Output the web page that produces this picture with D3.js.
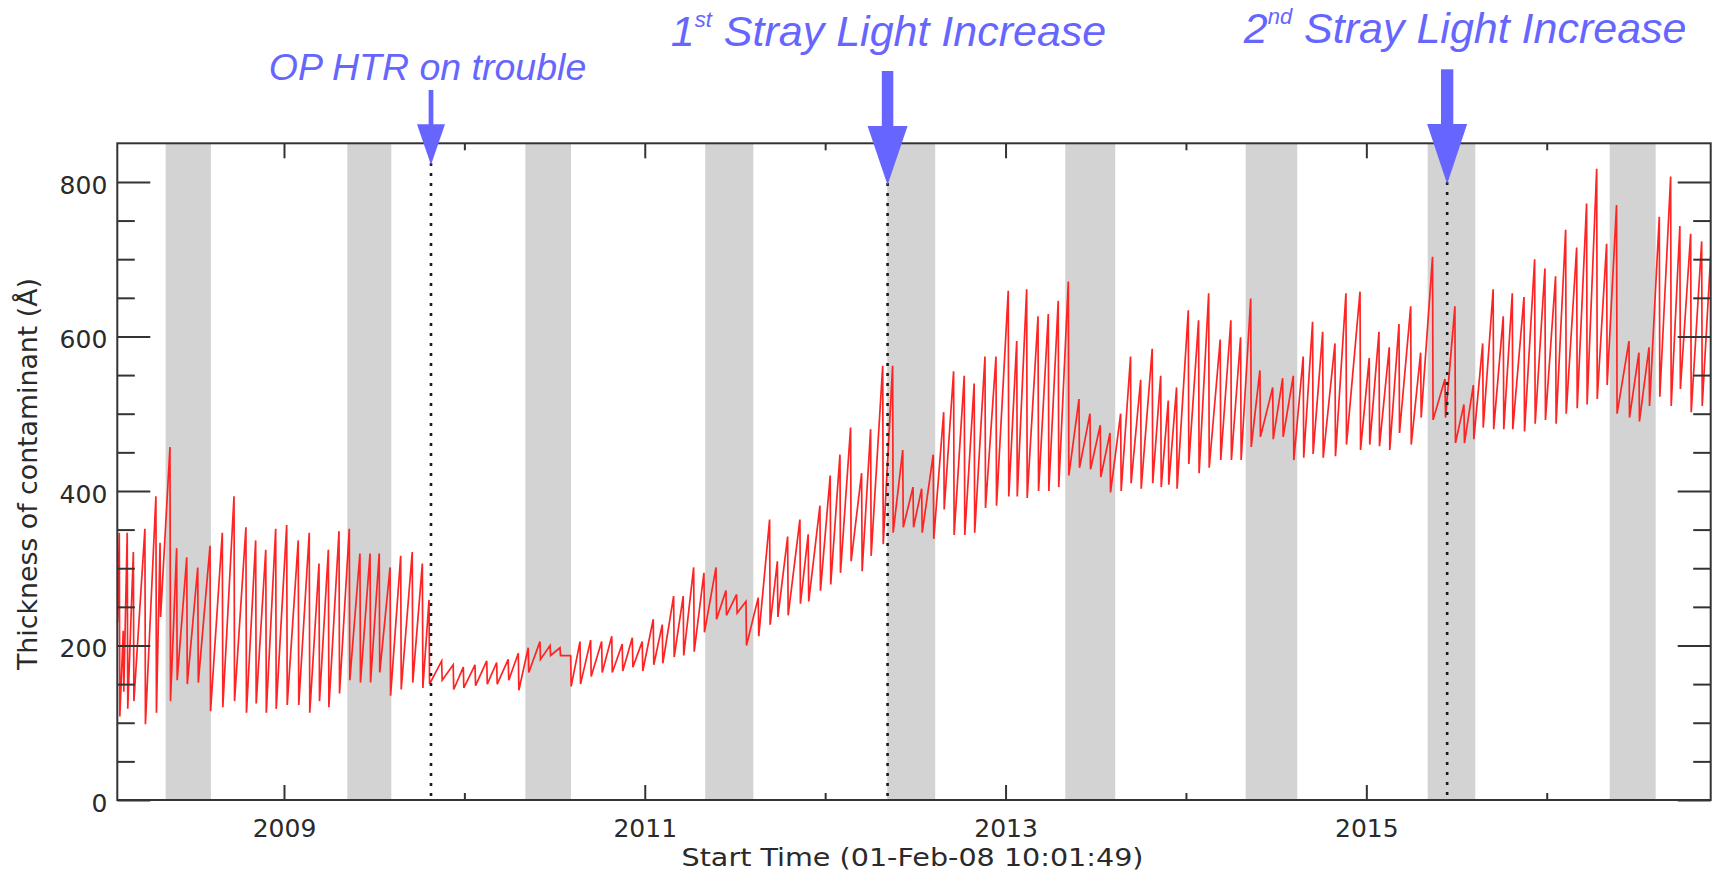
<!DOCTYPE html>
<html>
<head>
<meta charset="utf-8">
<script src="https://cdn.jsdelivr.net/npm/d3@7"></script>
<style>
  html, body { margin: 0; padding: 0; background: #ffffff; }
  svg { display: block; }
</style>
</head>
<body>
<svg id="chart" width="1715" height="877"></svg>
<script>
// ---------------- DATA ----------------
// Time in decimal years; values in Angstrom.
const startPoint = [2008.077, 230];
const endPoint = [2016.909, 705];

// Times of each bake-out drop (peak value reached just before, trough just after)
const dropYears = [
  2008.087, 2008.109, 2008.131, 2008.165, 2008.229, 2008.290, 2008.313, 2008.368,
  2008.405, 2008.461, 2008.522, 2008.590,
  2008.658, 2008.723, 2008.789, 2008.843, 2008.899, 2008.954, 2009.015, 2009.079, 2009.140, 2009.194, 2009.246, 2009.305, 2009.362,
  2009.421, 2009.477, 2009.528, 2009.588,
  2009.647, 2009.711, 2009.767, 2009.804,
  2009.874, 2009.938, 2009.994, 2010.059, 2010.124, 2010.179, 2010.243, 2010.299,
  2010.354, 2010.419, 2010.475, 2010.530, 2010.589,
  2010.641, 2010.700, 2010.761, 2010.817, 2010.875, 2010.931, 2010.986, 2011.047, 2011.097, 2011.160, 2011.213, 2011.271, 2011.328, 2011.395,
  2011.450, 2011.509, 2011.561,
  2011.629, 2011.692, 2011.735, 2011.792, 2011.860, 2011.906, 2011.971, 2012.028, 2012.082, 2012.141, 2012.202, 2012.252, 2012.319, 2012.374, 2012.430, 2012.487,
  2012.535, 2012.599, 2012.657, 2012.712, 2012.771, 2012.826, 2012.886, 2012.947, 2013.015, 2013.062, 2013.117, 2013.180, 2013.237, 2013.292, 2013.348,
  2013.407, 2013.468, 2013.525, 2013.579,
  2013.638, 2013.693, 2013.749, 2013.813, 2013.860, 2013.902, 2013.948, 2014.013, 2014.070, 2014.126, 2014.190, 2014.249, 2014.303, 2014.359,
  2014.410, 2014.481, 2014.536, 2014.595,
  2014.650, 2014.702, 2014.758, 2014.826, 2014.887, 2014.965, 2015.016, 2015.070, 2015.127, 2015.181, 2015.246, 2015.301,
  2015.367, 2015.436, 2015.491, 2015.541, 2015.593,
  2015.645, 2015.703, 2015.759, 2015.809, 2015.874, 2015.933, 2015.990, 2016.049, 2016.105, 2016.166, 2016.221, 2016.277, 2016.332, 2016.387,
  2016.456, 2016.511, 2016.567,
  2016.624, 2016.687, 2016.738, 2016.798, 2016.859
];
const peakValues = [
  346, 219, 346, 321, 351, 393, 333, 457,
  326, 314, 301, 329,
  346, 393, 353, 336, 324, 351, 356, 336, 346, 306, 324, 348, 351,
  319, 319, 319, 301,
  316, 321, 306, 259,
  180, 175, 172, 175, 180, 178, 182, 190,
  197, 205, 200, 197, 187,
  205, 207, 205, 212, 202, 210, 205, 234, 227, 264, 264, 301, 294, 301,
  271, 266, 257,
  262, 363, 309, 341, 363, 344, 381, 420, 447, 482, 423, 480, 562, 562, 453, 405,
  403, 447, 502, 555, 549, 539, 574, 574, 659, 594, 661, 626, 629, 646, 671,
  519, 500, 485, 475,
  500, 574, 544, 584, 549, 517, 534, 634, 621, 656, 596, 621, 599, 649,
  556, 534, 546, 549,
  574, 619, 606, 591, 656, 658, 572, 606, 586, 616, 639, 579,
  703, 545, 639, 512, 537,
  591, 661, 626, 656, 651, 700, 688, 678, 738, 715, 772, 817, 720, 770,
  594, 579, 586,
  755, 807, 743, 733, 723
];
const troughValues = [
  108, 140, 118, 128, 98, 113, 237, 128,
  155, 150, 152, 115,
  120, 128, 113, 125, 113, 118, 123, 123, 113, 128, 120, 138, 155,
  152, 152, 165, 135,
  143, 152, 145, 150,
  155, 143, 145, 148, 150, 150, 155, 142,
  165, 182, 187, 187, 147,
  150, 160, 165, 165, 167, 172, 167, 175, 177, 185, 187, 192, 217, 234,
  239, 242, 200,
  212, 227, 237, 239, 254, 257, 271, 279, 294, 309, 296, 316, 331, 346, 353, 353,
  346, 338, 376, 343, 343, 346, 378, 381, 393, 393, 391, 400, 400, 405, 420,
  430, 428, 418, 398,
  400, 410, 403, 410, 405, 408, 403, 435, 423, 430, 440, 440, 440, 457,
  470, 467, 470, 440,
  443, 448, 443, 445, 460, 453, 460, 458, 453, 475, 460, 495,
  492, 495, 462, 462, 467,
  482, 480, 480, 480, 477, 487, 492, 487, 500, 507, 512, 519, 537, 500,
  495, 490, 510,
  522, 510, 532, 502, 510
];

// Shaded seasons (decimal years)
const bandStarts = [2008.344, 2009.351, 2010.338, 2011.335, 2012.344, 2013.331, 2014.331, 2015.340, 2016.349];
const bandEnds   = [2008.595, 2009.595, 2010.591, 2011.602, 2012.610, 2013.608, 2014.617, 2015.604, 2016.604];

// Events
const eventYears = [2009.815, 2012.346, 2015.448];
const eventMain  = ["OP HTR on trouble", "1", "2"];
const eventSup   = ["", "st", "nd"];
const eventRest  = ["", " Stray Light Increase", " Stray Light Increase"];

// Axes
const xDomain = [2008.076, 2016.909];
const yDomain = [0, 850];
const xMajorTicks = [2009, 2011, 2013, 2015];
const xMinorTicks = [2010, 2012, 2014, 2016];
const yMajorTicks = [0, 200, 400, 600, 800];
const yMinorTicks = [50, 100, 150, 250, 300, 350, 450, 500, 550, 650, 700, 750];
const xTitle = "Start Time (01-Feb-08 10:01:49)";
const yTitle = "Thickness of contaminant (Å)";

// ---------------- LAYOUT ----------------
const L = 117.3, R = 1710.7, T = 143.3, B = 800;
const svg = d3.select("#chart");
const x = d3.scaleLinear().domain(xDomain).range([L, R]);
const y = d3.scaleLinear().domain(yDomain).range([B, T]);

const axisFont = "'DejaVu Sans', 'Liberation Sans', sans-serif";
const axisColor = "#333333";
const annColor = "#6666ff";
const annFont = "'Liberation Sans', Arial, sans-serif";

svg.append("rect").attr("width", 1715).attr("height", 877).attr("fill", "#ffffff");

// Bands
svg.append("g").selectAll("rect")
  .data(d3.zip(bandStarts, bandEnds))
  .join("rect")
  .attr("x", d => x(d[0]))
  .attr("y", T)
  .attr("width", d => x(d[1]) - x(d[0]))
  .attr("height", B - T)
  .attr("fill", "#d3d3d3");

// Data series
const pts = [startPoint];
dropYears.forEach((t, i) => {
  pts.push([t, peakValues[i]]);
  pts.push([t + 0.003, troughValues[i]]);
});
pts.push(endPoint);

svg.append("clipPath").attr("id", "plotclip")
  .append("rect").attr("x", L).attr("y", T).attr("width", R - L).attr("height", B - T);

svg.append("path")
  .datum(pts)
  .attr("clip-path", "url(#plotclip)")
  .attr("fill", "none")
  .attr("stroke", "#ff2424")
  .attr("stroke-width", 1.7)
  .attr("stroke-linejoin", "miter")
  .attr("d", d3.line().x(d => x(d[0])).y(d => y(d[1])));

// Arrow geometry (style)
const arrowStyle = [
  {shaftTop: 90, headTop: 124.3, tip: 165, shaftW: 4.7, headW: 28},
  {shaftTop: 71, headTop: 126, tip: 185, shaftW: 11.5, headW: 40},
  {shaftTop: 69.3, headTop: 124, tip: 184, shaftW: 12.3, headW: 40}
];

// Dotted event lines
svg.append("g").selectAll("line")
  .data(eventYears)
  .join("line")
  .attr("x1", d => x(d)).attr("x2", d => x(d))
  .attr("y1", (d, i) => arrowStyle[i].tip - 2)
  .attr("y2", B)
  .attr("stroke", "#1a1a1a")
  .attr("stroke-width", 2.6)
  .attr("stroke-dasharray", "3,7");

// Axes
function styleAxis(g) {
  g.select(".domain").remove();
  g.selectAll(".tick line").attr("stroke", axisColor).attr("stroke-width", 2);
  g.selectAll(".tick text")
    .attr("font-family", axisFont)
    .attr("font-size", 25)
    .attr("fill", "#2a2a2a");
}

svg.append("g").attr("transform", `translate(${L},0)`)
  .call(d3.axisLeft(y).tickValues(yMajorTicks).tickSize(-33).tickPadding(10).tickFormat(d3.format("d")))
  .call(styleAxis)
  .call(g => g.selectAll(".tick text").attr("dy", "0.46em"));
svg.append("g").attr("transform", `translate(${L},0)`)
  .call(d3.axisLeft(y).tickValues(yMinorTicks).tickSize(-17.5).tickFormat(""))
  .call(styleAxis);
svg.append("g").attr("transform", `translate(${R},0)`)
  .call(d3.axisRight(y).tickValues(yMajorTicks).tickSize(-33).tickFormat(""))
  .call(styleAxis);
svg.append("g").attr("transform", `translate(${R},0)`)
  .call(d3.axisRight(y).tickValues(yMinorTicks).tickSize(-17.5).tickFormat(""))
  .call(styleAxis);

svg.append("g").attr("transform", `translate(0,${B})`)
  .call(d3.axisBottom(x).tickValues(xMajorTicks).tickSize(-15).tickPadding(19).tickFormat(d3.format("d")))
  .call(styleAxis);
svg.append("g").attr("transform", `translate(0,${B})`)
  .call(d3.axisBottom(x).tickValues(xMinorTicks).tickSize(-7).tickFormat(""))
  .call(styleAxis);
svg.append("g").attr("transform", `translate(0,${T})`)
  .call(d3.axisTop(x).tickValues(xMajorTicks).tickSize(-15).tickFormat(""))
  .call(styleAxis);
svg.append("g").attr("transform", `translate(0,${T})`)
  .call(d3.axisTop(x).tickValues(xMinorTicks).tickSize(-7).tickFormat(""))
  .call(styleAxis);

// Frame
svg.append("rect")
  .attr("x", L).attr("y", T).attr("width", R - L).attr("height", B - T)
  .attr("fill", "none").attr("stroke", axisColor).attr("stroke-width", 2);

// Axis titles
svg.append("text")
  .attr("x", (681 + 1144) / 2).attr("y", 866)
  .attr("text-anchor", "middle")
  .attr("font-family", axisFont).attr("font-size", 25).attr("fill", "#2a2a2a")
  .attr("textLength", 462).attr("lengthAdjust", "spacingAndGlyphs")
  .text(xTitle);

svg.append("text")
  .attr("transform", "translate(37,474) rotate(-90)")
  .attr("text-anchor", "middle")
  .attr("font-family", axisFont).attr("font-size", 26).attr("fill", "#2a2a2a")
  .attr("textLength", 392).attr("lengthAdjust", "spacingAndGlyphs")
  .text(yTitle);

// Arrows
const arrows = svg.append("g");
eventYears.forEach((t, i) => {
  const cx = x(t), s = arrowStyle[i];
  arrows.append("rect")
    .attr("x", cx - s.shaftW / 2).attr("y", s.shaftTop)
    .attr("width", s.shaftW).attr("height", s.headTop - s.shaftTop + 1)
    .attr("fill", annColor);
  arrows.append("path")
    .attr("d", `M${cx - s.headW / 2},${s.headTop} L${cx + s.headW / 2},${s.headTop} L${cx},${s.tip} Z`)
    .attr("fill", annColor);
});

// Event labels (style positions)
const labelStyle = [
  {dx: -3.5, y: 80, size: 37.5},
  {dx: 1, y: 45.7, size: 43},
  {dx: 18, y: 43.3, size: 43}
];
eventYears.forEach((t, i) => {
  const s = labelStyle[i];
  const txt = svg.append("text")
    .attr("x", x(t) + s.dx).attr("y", s.y)
    .attr("text-anchor", "middle")
    .attr("font-family", annFont)
    .attr("font-style", "italic")
    .attr("font-size", s.size)
    .attr("fill", annColor);
  txt.append("tspan").text(eventMain[i]);
  if (eventSup[i]) {
    txt.append("tspan").attr("dy", -19).attr("font-size", 22).text(eventSup[i]);
    txt.append("tspan").attr("dy", 19).text(eventRest[i]);
  }
});
</script>
</body>
</html>
